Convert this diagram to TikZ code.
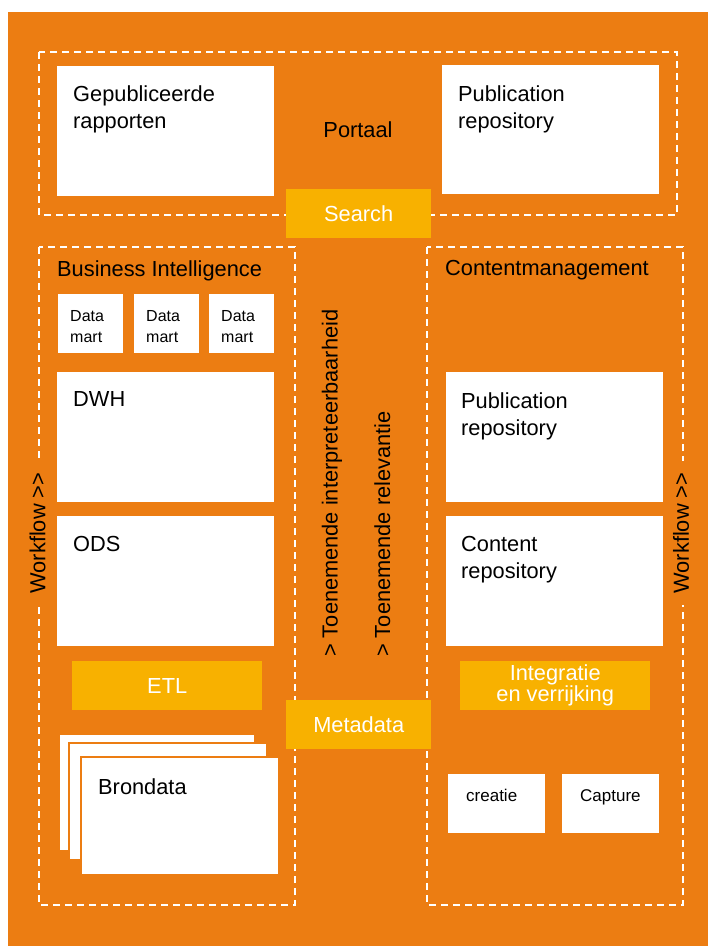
\documentclass[tikz,border=0pt]{standalone}
\usepackage{fontspec}
\setmainfont{Liberation Sans}
\usetikzlibrary{positioning}
\definecolor{bgorange}{RGB}{236,125,18}
\definecolor{accent}{RGB}{248,177,0}
\tikzset{
  zone/.style={draw=white,line width=2.2pt,dash pattern=on 7pt off 5pt},
  wbox/.style={fill=white,inner sep=0pt,anchor=north west},
  ybox/.style={fill=accent,inner sep=0pt,anchor=north west,text=white,align=center,
    font=\fontsize{21.8}{21}\selectfont},
  sheet/.style={fill=white,draw=bgorange,line width=1.5pt},
  lbl/.style={inner sep=0pt,align=left,font=\fontsize{21.8}{27}\selectfont},
  smlbl/.style={inner sep=0pt,align=left,font=\fontsize{16}{21}\selectfont},
  vlbl/.style={inner sep=0pt,rotate=90,font=\fontsize{21.8}{27}\selectfont},
  flow/.style={vlbl,fill=bgorange,inner xsep=12pt,inner ysep=2pt}
}
\begin{document}
\begin{tikzpicture}[x=1pt,y=-1pt]
\useasboundingbox (0,0) rectangle (708,946);
\fill[white] (0,0) rectangle (708,946);
\fill[bgorange] (8,12) rectangle (708,946);

% zones
\draw[zone] (39,52) rectangle (677,215);
\draw[zone] (39,247) rectangle (295,905);
\draw[zone] (427,247) rectangle (683,905);

% portaal
\node[wbox,minimum width=217pt,minimum height=130pt] (gep) at (57,66) {};
\node[lbl,below right=19pt and 16pt of gep.north west] (geptxt) {Gepubliceerde\\rapporten};
\node[wbox,minimum width=217pt,minimum height=129pt] (pubtop) at (442,65) {};
\node[lbl,below right=20pt and 16pt of pubtop.north west] (pubtoptxt) {Publication\\repository};
\node[lbl] (portaal) at (358,130) {Portaal};
\node[ybox,minimum width=145pt,minimum height=49pt] (search) at (286,189) {Search};

% business intelligence
\node[lbl,anchor=north west] (bi) at (57,260) {Business Intelligence};
\foreach \i/\x in {1/58,2/134,3/209}{
  \node[wbox,minimum width=65pt,minimum height=59pt] (dm\i) at (\x,294) {};
  \node[smlbl,below right=16pt and 12pt of dm\i.north west] (dmtxt\i) {Data\\mart};
}
\node[wbox,minimum width=217pt,minimum height=130pt] (dwh) at (57,372) {};
\node[lbl,below right=19pt and 16pt of dwh.north west] (dwhtxt) {DWH};
\node[wbox,minimum width=217pt,minimum height=130pt] (ods) at (57,516) {};
\node[lbl,below right=20pt and 16pt of ods.north west] (odstxt) {ODS};
\node[ybox,minimum width=190pt,minimum height=49pt] (etl) at (72,661) {ETL};

% brondata stack
\draw[sheet] (59,734) rectangle (255,851);
\draw[sheet] (69,743) rectangle (267,860);
\node[sheet,anchor=north west,minimum width=198pt,minimum height=118pt,inner sep=0pt] (bron) at (80,756) {};
\node[lbl,below right=22pt and 18pt of bron.north west] (brontxt) {Brondata};

% contentmanagement
\node[lbl,anchor=north west] (cm) at (445,260) {Contentmanagement};
\node[wbox,minimum width=217pt,minimum height=130pt] (pubrep) at (446,372) {};
\node[lbl,below right=20pt and 15pt of pubrep.north west] (pubreptxt) {Publication\\repository};
\node[wbox,minimum width=217pt,minimum height=130pt] (conrep) at (446,516) {};
\node[lbl,below right=20pt and 15pt of conrep.north west] (conreptxt) {Content\\repository};
\node[ybox,minimum width=190pt,minimum height=49pt] (integ) at (460,661) {Integratie\\en verrijking};
\node[wbox,minimum width=97pt,minimum height=59pt] (creatie) at (448,774) {};
\node[inner sep=0pt,font=\fontsize{17}{21}\selectfont,below right=15pt and 18pt of creatie.north west] (creatietxt) {creatie};
\node[wbox,minimum width=97pt,minimum height=59pt] (capture) at (562,774) {};
\node[inner sep=0pt,font=\fontsize{17}{21}\selectfont,below right=15pt and 18pt of capture.north west] (capturetxt) {Capture};

% midden
\node[ybox,minimum width=145pt,minimum height=49pt] (meta) at (286,700) {Metadata};
\node[vlbl,anchor=base west] (interp) at (337.5,657) {> Toenemende interpreteerbaarheid};
\node[vlbl,anchor=base west] (relev) at (390,657) {> Toenemende relevantie};

% workflow
\node[flow] (wfleft) at (37.5,533) {Workflow >\kern0pt>};
\node[flow] (wfright) at (681,533) {Workflow >\kern0pt>};
\end{tikzpicture}
\end{document}
